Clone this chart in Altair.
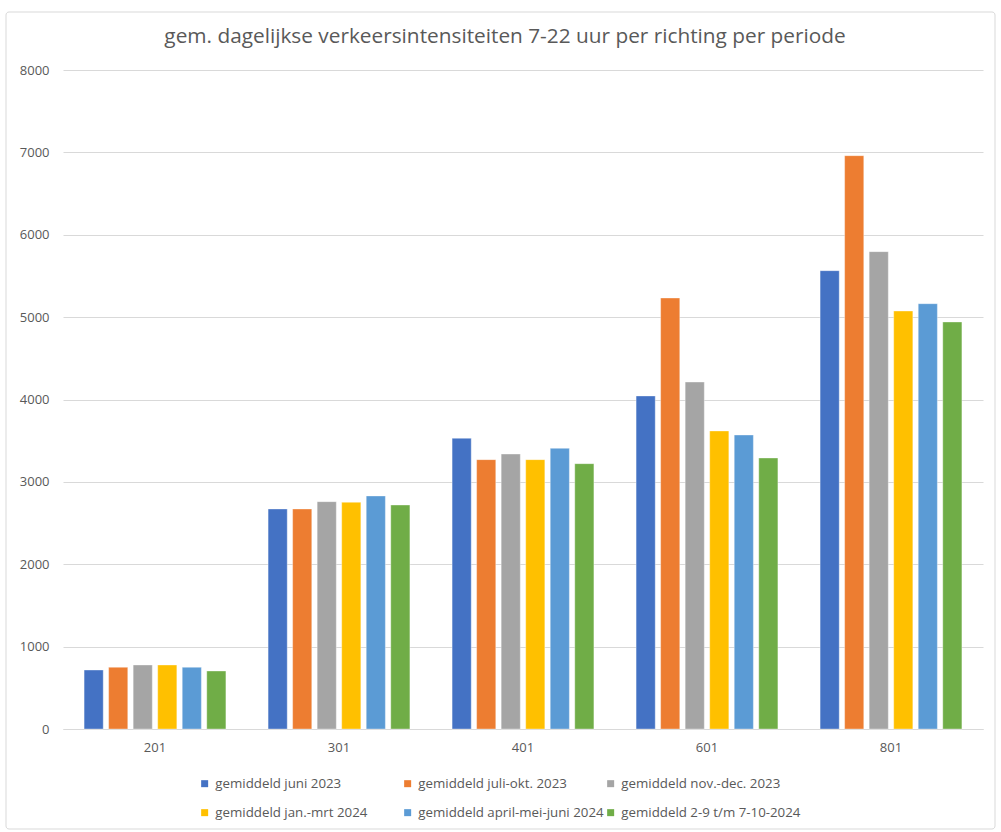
import altair as alt
import pandas as pd

locations = ["201", "301", "401", "601", "801"]
series = [
    "gemiddeld juni 2023",
    "gemiddeld juli-okt. 2023",
    "gemiddeld nov.-dec. 2023",
    "gemiddeld jan.-mrt 2024",
    "gemiddeld april-mei-juni 2024",
    "gemiddeld 2-9 t/m 7-10-2024",
]
juni_2023 = [716, 2671, 3529, 4043, 5564]
juli_okt_2023 = [749, 2671, 3270, 5232, 6960]
nov_dec_2023 = [777, 2760, 3338, 4212, 5795]
jan_mrt_2024 = [777, 2752, 3270, 3618, 5074]
apr_jun_2024 = [749, 2829, 3407, 3569, 5163]
sep_okt_2024 = [704, 2719, 3221, 3290, 4941]
colors = ["#4472C4", "#ED7D31", "#A5A5A5", "#FFC000", "#5B9BD5", "#70AD47"]
y_ticks = [0, 1000, 2000, 3000, 4000, 5000, 6000, 7000, 8000]

all_values = [juni_2023, juli_okt_2023, nov_dec_2023, jan_mrt_2024, apr_jun_2024, sep_okt_2024]
rows = []
for s, vals in zip(series, all_values):
    for loc, v in zip(locations, vals):
        rows.append({"locatie": loc, "reeks": s, "waarde": v})
df = pd.DataFrame(rows)

FONT = "Open Sans"
GRAY = "#595959"
W, H = 920, 659
LEFT, TOP = 63, 70

bars = alt.Chart(df).mark_bar(stroke="white", strokeWidth=0.6, strokeOpacity=0.6).encode(
    x=alt.X("locatie:N", sort=locations,
            scale=alt.Scale(paddingInner=0.2, paddingOuter=0.1),
            axis=alt.Axis(title=None, labelAngle=0, domain=True, domainColor="#d9d9d9",
                          domainWidth=1, ticks=False, labelPadding=12, grid=False,
                          labelFont=FONT, labelFontSize=13, labelColor=GRAY)),
    xOffset=alt.XOffset("reeks:N", sort=series,
                        scale=alt.Scale(paddingInner=0.22, paddingOuter=0.11)),
    y=alt.Y("waarde:Q", scale=alt.Scale(domain=[0, 8000]),
            axis=alt.Axis(title=None, values=y_ticks, format="d", domain=False, ticks=False,
                          labelPadding=14, gridColor="#d9d9d9", gridWidth=1,
                          labelFont=FONT, labelFontSize=13, labelColor=GRAY)),
    color=alt.Color("reeks:N", sort=series,
                    scale=alt.Scale(domain=series, range=colors),
                    legend=alt.Legend(title=None, orient="none", legendX=135, legendY=707,
                                      direction="horizontal",
                                      columns=3, gridAlign="all", symbolType="square",
                                      symbolSize=49, symbolStrokeWidth=0,
                                      labelFont=FONT, labelFontSize=13.3, labelColor=GRAY,
                                      labelLimit=400, columnPadding=0, rowPadding=15,
                                      labelOffset=4, padding=0)),
)

frame = alt.Chart(pd.DataFrame({"a": [0]})).mark_rect(
    fill=None, stroke="#d9d9d9", strokeWidth=1, cornerRadius=3
).encode(
    x=alt.value(6 - LEFT), x2=alt.value(995 - LEFT),
    y=alt.value(12 - TOP), y2=alt.value(829 - TOP)
)

chart = alt.layer(frame, bars).properties(
    width=W, height=H,
    autosize=alt.AutoSizeParams(type="none"),
    padding={"left": LEFT, "top": TOP, "right": 1001 - LEFT - W, "bottom": 832 - TOP - H},
    background="white",
    title=alt.TitleParams("gem. dagelijkse verkeersintensiteiten 7-22 uur per richting per periode",
                          font=FONT, fontSize=20.8, fontWeight="normal", color=GRAY,
                          anchor="middle", offset=-36, dx=-18),
).configure_view(strokeWidth=0, stroke="transparent")

chart.save("out.html", embed_options={"renderer": "svg", "actions": False})
